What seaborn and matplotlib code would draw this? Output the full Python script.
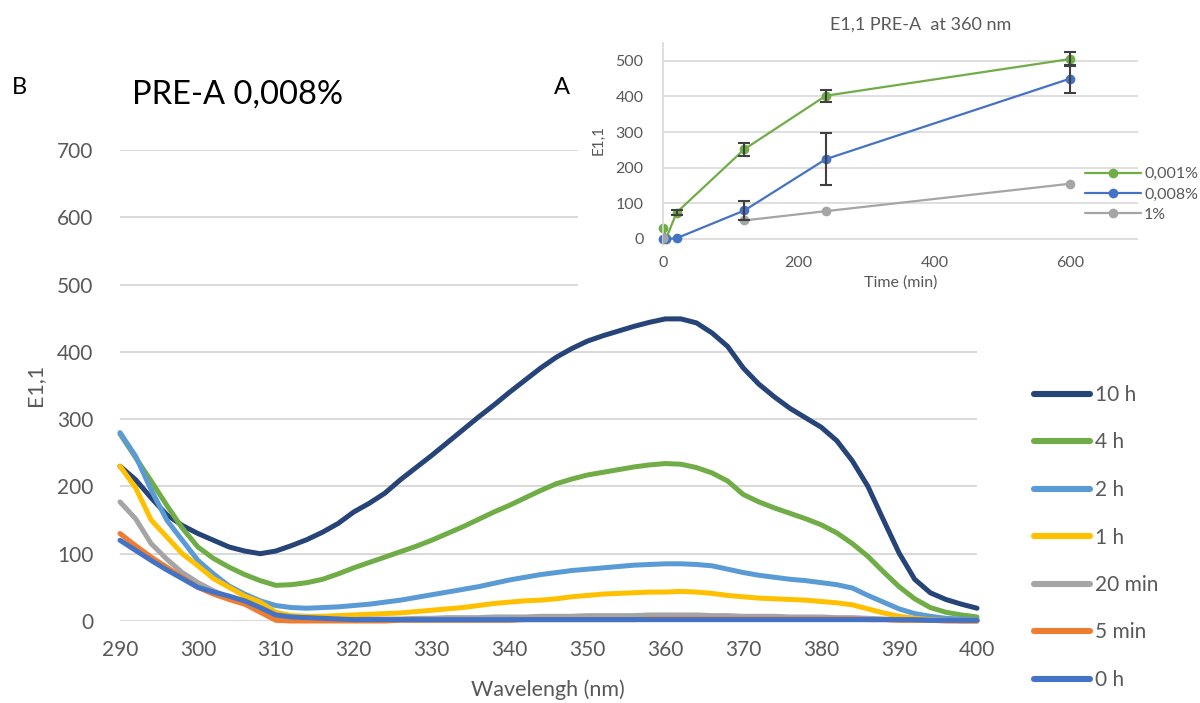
import numpy as np
import pandas as pd
import seaborn as sns
import matplotlib
matplotlib.use("Agg")
import matplotlib.pyplot as plt
from matplotlib.patches import Rectangle
from matplotlib.lines import Line2D

# ---------------- data ----------------
wavelength = list(range(290, 401, 2))

e_10h = [230, 210, 183, 158, 142, 130, 120, 110, 104, 100,
         104, 112, 121, 132, 145, 162, 175, 190, 210, 228,
         246, 265, 284, 303, 321, 340, 358, 376, 392, 405,
         416, 424, 431, 438, 444, 449, 449, 443, 428, 408,
         376, 352, 333, 316, 302, 288, 268, 238, 200, 150,
         101, 62, 42, 32, 25, 19]
e_4h = [278, 243, 208, 172, 138, 110, 93, 80, 69, 60,
        53, 54, 57, 62, 70, 79, 87, 95, 103, 111,
        120, 130, 140, 151, 162, 172, 183, 194, 204, 211,
        217, 221, 225, 229, 232, 234, 233, 228, 220, 208,
        188, 177, 168, 160, 152, 143, 131, 115, 96, 73,
        51, 33, 20, 13, 9, 6]
e_2h = [280, 245, 195, 150, 120, 90, 70, 52, 40, 30,
        23, 20, 19, 20, 21, 23, 25, 28, 31, 35,
        39, 43, 47, 51, 56, 61, 65, 69, 72, 75,
        77, 79, 81, 83, 84, 85, 85, 84, 82, 77,
        72, 68, 65, 62, 60, 57, 54, 49, 38, 28,
        18, 11, 7, 4, 3, 2]
e_1h = [230, 198, 150, 125, 100, 82, 63, 50, 37, 28,
        13, 8, 7, 7, 8, 9, 10, 11, 12, 14,
        16, 18, 20, 23, 26, 28, 30, 31, 33, 36,
        38, 40, 41, 42, 43, 43, 44, 43, 41, 38,
        36, 34, 33, 32, 31, 29, 27, 24, 18, 12,
        7, 4, 2, 1, 1, 1]
e_20min = [177, 152, 115, 92, 72, 57, 45, 35, 27, 17,
           7, 3, 2, 2, 2, 2, 3, 3, 3, 4,
           4, 5, 5, 5, 6, 6, 6, 7, 7, 7,
           8, 8, 8, 8, 9, 9, 9, 9, 8, 8,
           7, 7, 7, 6, 6, 6, 5, 5, 4, 3,
           2, 1, 1, 1, 0, 0]
e_5min = [130, 112, 95, 80, 65, 50, 40, 32, 25, 13,
          1, 0, 0, 0, 0, 0, 0, 0, 1, 1,
          1, 1, 1, 1, 1, 1, 2, 2, 2, 2,
          2, 2, 2, 2, 3, 3, 3, 3, 3, 3,
          3, 3, 3, 3, 3, 3, 3, 3, 2, 2,
          1, 1, 1, 0, 0, 0]
e_0h = [120, 105, 90, 76, 63, 50, 43, 37, 30, 20,
        9, 6, 5, 4, 3, 2, 2, 2, 2, 2,
        2, 2, 2, 2, 2, 2, 2, 2, 2, 2,
        2, 2, 2, 2, 2, 2, 2, 2, 2, 2,
        2, 2, 2, 2, 2, 2, 2, 2, 2, 2,
        2, 2, 1, 1, 1, 1]

series_labels = ["10 h", "4 h", "2 h", "1 h", "20 min", "5 min", "0 h"]
series_values = [e_10h, e_4h, e_2h, e_1h, e_20min, e_5min, e_0h]
series_colors = ["#264478", "#70AD47", "#5B9BD5", "#FFC000", "#A5A5A5", "#ED7D31", "#4472C4"]

# inset data (E1,1 at 360 nm vs time)
time_min = [0, 5, 20, 120, 240, 600]
inset_001 = [30, 3, 74, 252, 402, 505]
inset_001_err = [0, 0, 8, 18, 17, 19]
inset_008 = [0, 0, 2, 80, 224, 450]
inset_008_err = [0, 0, 0, 26, 73, 39]
time_1pct = [0, 120, 240, 600]
inset_1pct = [4, 52, 78, 155]
inset_labels = ["0,001%", "0,008%", "1%"]
inset_colors = ["#70AD47", "#4472C4", "#A5A5A5"]

# ---------------- style ----------------
sns.set_theme(style="white")
plt.rcParams["font.family"] = ["Lato", "DejaVu Sans"]
TXT = "#595959"
GRID = "#D9D9D9"

fig = plt.figure(figsize=(12, 7.03), dpi=100)
fig.patch.set_facecolor("white")

# ---------------- main chart ----------------
ax = fig.add_axes([120 / 1200, 1 - 621 / 703, 857 / 1200, 471 / 703])
ax.set_zorder(0)
long = pd.DataFrame({
    "wavelength": np.tile(wavelength, len(series_labels)),
    "E11": np.concatenate(series_values),
    "series": np.repeat(series_labels, len(wavelength)),
})
sns.lineplot(data=long, x="wavelength", y="E11", hue="series",
             hue_order=series_labels, palette=series_colors,
             linewidth=3.6, legend=False, ax=ax, sort=False)
for ln in ax.get_lines():
    ln.set_clip_on(False)
    ln.set_solid_capstyle("round")
    ln.set_solid_joinstyle("round")

ax.set_xlim(290, 400)
ax.set_ylim(0, 700)
ax.set_xticks(range(290, 401, 10))
ax.set_yticks(range(0, 701, 100))
ax.yaxis.grid(True, color=GRID, linewidth=1.4)
ax.xaxis.grid(False)
ax.set_axisbelow(True)
for s in ax.spines.values():
    s.set_visible(False)
ax.tick_params(axis="both", length=0, labelsize=15, colors=TXT)
ax.tick_params(axis="y", pad=19)
ax.tick_params(axis="x", pad=14)
ax.set_xlabel("")
ax.set_ylabel("")

fig.text(548 / 1200, 1 - 690 / 703, "Wavelengh (nm)", ha="center", va="center",
         fontsize=15.5, color=TXT)
fig.text(35 / 1200, 1 - 385 / 703, "E1,1", ha="center", va="center",
         rotation=90, fontsize=15.5, color=TXT)

handles = [Line2D([0], [0], color=c, linewidth=4.4, solid_capstyle="round")
           for c in series_colors]
fig.legend(handles, series_labels, loc="upper left",
           bbox_to_anchor=(1034 / 1200, 1 - 385 / 703),
           frameon=False, fontsize=15, labelcolor=TXT,
           handlelength=2.7, handletextpad=0.25, labelspacing=1.32,
           borderpad=0, borderaxespad=0)

fig.text(12 / 1200, 1 - 87 / 703, "B", ha="left", va="center", fontsize=17, color="black")
fig.text(132 / 1200, 1 - 95 / 703, "PRE-A 0,008%", ha="left", va="center",
         fontsize=23.5, color="black")
fig.text(554 / 1200, 1 - 87 / 703, "A", ha="left", va="center", fontsize=17, color="black")

# white box of the inset chart
fig.patches.append(Rectangle((578 / 1200, 1 - 300 / 703), 1 - 578 / 1200, 300 / 703,
                             transform=fig.transFigure, facecolor="white",
                             edgecolor="none", zorder=1))

# ---------------- inset chart ----------------
ins = fig.add_axes([663 / 1200, 1 - 245 / 703, 475 / 1200, 202 / 703])
ins.set_zorder(2)
ins.set_facecolor("white")

d001 = pd.DataFrame({"t": time_min, "v": inset_001})
d008 = pd.DataFrame({"t": time_min, "v": inset_008})
d1 = pd.DataFrame({"t": time_1pct, "v": inset_1pct})

sns.lineplot(data=d1.iloc[1:], x="t", y="v", color=inset_colors[2], linewidth=1.6,
             marker="o", markersize=7, markeredgewidth=0, ax=ins, sort=False)
sns.scatterplot(data=d1.iloc[:1], x="t", y="v", color=inset_colors[2], s=55,
                linewidth=0, ax=ins, zorder=3)
sns.lineplot(data=d001, x="t", y="v", color=inset_colors[0], linewidth=1.6,
             marker="o", markersize=7, markeredgewidth=0, ax=ins, sort=False)
sns.lineplot(data=d008, x="t", y="v", color=inset_colors[1], linewidth=1.6,
             marker="o", markersize=7, markeredgewidth=0, ax=ins, sort=False)

for tv, vv, ev in [(time_min, inset_001, inset_001_err), (time_min, inset_008, inset_008_err)]:
    tt = [t for t, e in zip(tv, ev) if e > 0]
    yy = [v for v, e in zip(vv, ev) if e > 0]
    ee = [e for e in ev if e > 0]
    ins.errorbar(tt, yy, yerr=ee, fmt="none", ecolor="#404040", elinewidth=1.5,
                 capsize=4, capthick=1.5, zorder=4)

for ln in ins.get_lines():
    ln.set_clip_on(False)

ins.set_xlim(0, 700)
ins.set_ylim(-17, 550)
ins.set_xticks([0, 200, 400, 600])
ins.set_yticks(range(0, 501, 100))
ins.yaxis.grid(True, color=GRID, linewidth=1.2)
ins.xaxis.grid(False)
ins.set_axisbelow(True)
for k, s in ins.spines.items():
    s.set_visible(k == "left")
ins.spines["left"].set_color(GRID)
ins.spines["left"].set_linewidth(1.2)
ins.tick_params(axis="both", length=0, labelsize=11.5, colors=TXT)
ins.tick_params(axis="y", pad=14)
ins.tick_params(axis="x", pad=8)
ins.set_xlabel("")
ins.set_ylabel("")

fig.text(901 / 1200, 1 - 283 / 703, "Time (min)", ha="center", va="center",
         fontsize=11.5, color=TXT)
fig.text(599 / 1200, 1 - 140 / 703, "E1,1", ha="center", va="center",
         rotation=90, fontsize=11, color=TXT)
fig.text(921 / 1200, 1 - 25 / 703, "E1,1 PRE-A  at 360 nm", ha="center", va="center",
         fontsize=13, color=TXT)

ih = [Line2D([0], [0], color=c, linewidth=1.6, marker="o", markersize=7,
             markeredgewidth=0) for c in inset_colors]
leg2 = fig.legend(ih, inset_labels, loc="upper left",
                  bbox_to_anchor=(1085 / 1200, 1 - 167 / 703),
                  frameon=False, fontsize=11.5, labelcolor=TXT,
                  handlelength=3.5, handletextpad=0.2, labelspacing=0.38,
                  borderpad=0, borderaxespad=0)
leg2.set_zorder(5)

fig.savefig("out.png", dpi=100, facecolor="white")
